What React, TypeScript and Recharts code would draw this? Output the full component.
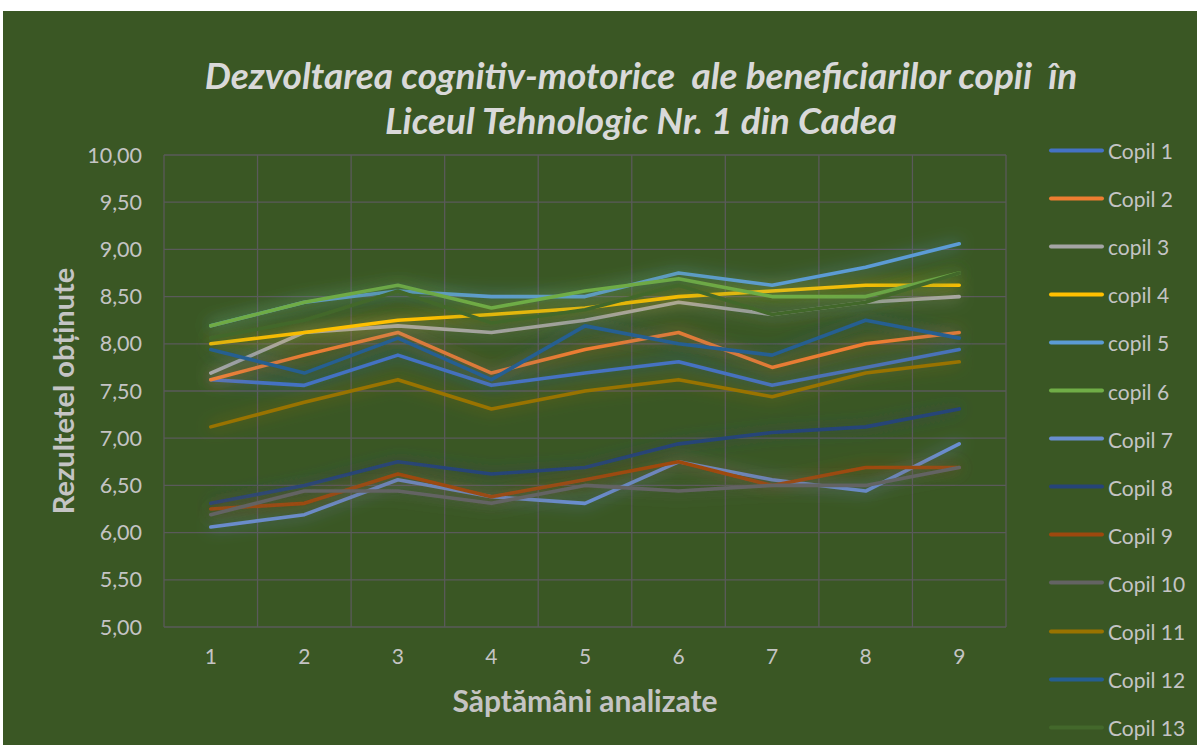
import { LineChart, Line, XAxis, YAxis, CartesianGrid } from 'recharts';

const weeks = [1, 2, 3, 4, 5, 6, 7, 8, 9];
const yTicks = [5, 5.5, 6, 6.5, 7, 7.5, 8, 8.5, 9, 9.5, 10];

const seriesNames = [
  'Copil 1', 'Copil 2', 'copil 3', 'copil 4', 'copil 5', 'copil 6', 'Copil 7',
  'Copil 8', 'Copil 9', 'Copil 10', 'Copil 11', 'Copil 12', 'Copil 13',
];
const seriesColors = [
  '#4472C4', '#ED7D31', '#A5A5A5', '#FFC000', '#5B9BD5', '#70AD47', '#698ED0',
  '#264478', '#9E480E', '#636363', '#997300', '#255E91', '#43682B',
];

const copil1 = [7.62, 7.56, 7.88, 7.56, 7.69, 7.81, 7.56, 7.75, 7.94];
const copil2 = [7.62, 7.88, 8.12, 7.69, 7.94, 8.12, 7.75, 8.0, 8.12];
const copil3 = [7.69, 8.12, 8.19, 8.12, 8.25, 8.44, 8.31, 8.44, 8.5];
const copil4 = [8.0, 8.12, 8.25, 8.31, 8.38, 8.5, 8.56, 8.62, 8.62];
const copil5 = [8.19, 8.44, 8.56, 8.5, 8.5, 8.75, 8.62, 8.81, 9.06];
const copil6 = [8.19, 8.44, 8.62, 8.38, 8.56, 8.69, 8.5, 8.5, 8.75];
const copil7 = [6.06, 6.19, 6.56, 6.38, 6.31, 6.75, 6.56, 6.44, 6.94];
const copil8 = [6.31, 6.5, 6.75, 6.62, 6.69, 6.94, 7.06, 7.12, 7.31];
const copil9 = [6.25, 6.31, 6.62, 6.38, 6.56, 6.75, 6.5, 6.69, 6.69];
const copil10 = [6.19, 6.44, 6.44, 6.31, 6.5, 6.44, 6.5, 6.5, 6.69];
const copil11 = [7.12, 7.38, 7.62, 7.31, 7.5, 7.62, 7.44, 7.69, 7.81];
const copil12 = [7.94, 7.69, 8.06, 7.62, 8.19, 8.0, 7.88, 8.25, 8.06];
const copil13 = [8.06, 8.25, 8.56, 8.22, 8.36, 8.62, 8.31, 8.44, 8.75];

const allSeries = [
  copil1, copil2, copil3, copil4, copil5, copil6, copil7,
  copil8, copil9, copil10, copil11, copil12, copil13,
];

const data = weeks.map((w, i) => {
  const row: Record<string, number> = { week: w };
  allSeries.forEach((s, k) => {
    row['s' + k] = s[i];
  });
  return row;
});

const FONT = 'Lato, "Open Sans", sans-serif';
const BG = '#3A5724';
const TEXT = '#C4C4C4';

export default function App() {
  return (
    <div style={{ position: 'absolute', left: 0, top: 0, width: 1197, height: 745, background: '#fff', overflow: 'hidden' }}>
      <style>{`.recharts-line-curve { filter: url(#glow); }`}</style>
      <div style={{ position: 'absolute', left: 3, top: 11, width: 1194, height: 734, background: BG, fontFamily: FONT }}>
        <div style={{ position: 'absolute', left: 0, width: 1276, top: 41, textAlign: 'center', color: '#D9D9D9', fontSize: 37, fontWeight: 700, fontStyle: 'italic', lineHeight: '45px', whiteSpace: 'nowrap' }}>
          Dezvoltarea cognitiv-motorice&nbsp; ale beneficiarilor copii&nbsp; în
          <br />
          Liceul Tehnologic Nr. 1 din Cadea
        </div>
        <LineChart width={1194} height={734} data={data} margin={{ top: 144, right: 191, bottom: 88, left: 91 }}>
          <defs>
            <filter id="glow" filterUnits="userSpaceOnUse" x="0" y="0" width="1194" height="734">
              <feGaussianBlur in="SourceGraphic" stdDeviation="8" result="b" />
              <feComponentTransfer in="b" result="b2">
                <feFuncA type="linear" slope="0.7" />
              </feComponentTransfer>
              <feMerge>
                <feMergeNode in="b2" />
                <feMergeNode in="SourceGraphic" />
              </feMerge>
            </filter>
          </defs>
          <CartesianGrid
            stroke="#5A5A5A"
            strokeWidth={1.3}
            verticalCoordinatesGenerator={({ offset }: any) =>
              Array.from({ length: weeks.length + 1 }, (_, i) => offset.left + (i * offset.width) / weeks.length)
            }
          />
          <XAxis
            dataKey="week"
            type="number"
            domain={[0.5, 9.5]}
            ticks={weeks}
            height={30}
            tickLine={false}
            axisLine={false}
            tickSize={0}
            tickMargin={22}
            tick={{ fill: TEXT, fontSize: 21, fontFamily: FONT }}
          />
          <YAxis
            type="number"
            domain={[5, 10]}
            ticks={yTicks}
            width={70}
            tickLine={false}
            axisLine={false}
            tickSize={0}
            tickMargin={22}
            tickFormatter={(v: number) => v.toFixed(2).replace('.', ',')}
            tick={{ fill: TEXT, fontSize: 21.5, fontFamily: FONT }}
          />
          {allSeries.map((_, k) => (
            <Line
              key={k}
              type="linear"
              dataKey={'s' + k}
              name={seriesNames[k]}
              stroke={seriesColors[k]}
              strokeWidth={3.6}
              strokeLinecap="round"
              strokeLinejoin="round"
              dot={false}
              activeDot={false}
              isAnimationActive={false}
            />
          ))}
        </LineChart>
        <div style={{ position: 'absolute', left: 582, top: 689, transform: 'translate(-50%, -50%)', color: TEXT, fontSize: 30, fontWeight: 700, whiteSpace: 'nowrap' }}>
          Săptămâni analizate
        </div>
        <div style={{ position: 'absolute', left: 59, top: 380, transform: 'translate(-50%, -50%) rotate(-90deg)', color: TEXT, fontSize: 29, fontWeight: 700, whiteSpace: 'nowrap' }}>
          Rezultetel obținute
        </div>
        {seriesNames.map((n, k) => (
          <div key={n} style={{ position: 'absolute', left: 1046, top: 139 + k * 48.1, transform: 'translateY(-50%)', display: 'flex', alignItems: 'center', whiteSpace: 'nowrap' }}>
            <div style={{ width: 55, height: 4, borderRadius: 2, background: seriesColors[k], marginRight: 4 }} />
            <span style={{ color: TEXT, fontSize: 21 }}>{n}</span>
          </div>
        ))}
      </div>
    </div>
  );
}
